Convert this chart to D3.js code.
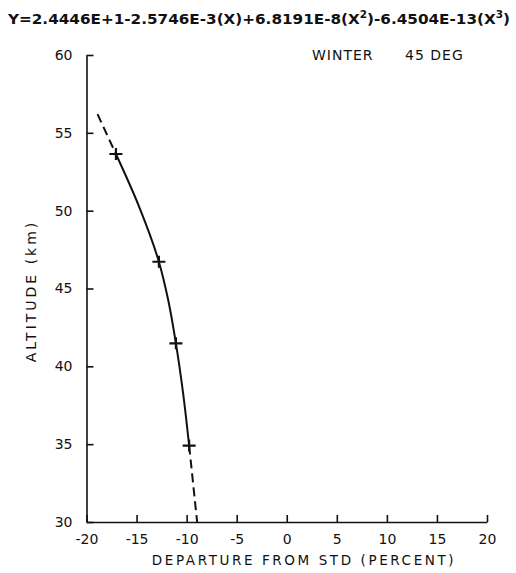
<!DOCTYPE html>
<html>
<head>
<meta charset="utf-8">
<script src="https://cdn.jsdelivr.net/npm/d3@7"></script>
<style>
  body { margin: 0; background: #fff; }
  svg text { font-family: "DejaVu Sans", sans-serif; fill: #111; }
</style>
</head>
<body>
<div id="chart"></div>
<script>
let width = 516, height = 573;

// markers (departure %, altitude km)
let markerX = [-17.06, -12.77, -11.07, -9.75];
let markerY = [53.64, 46.72, 41.48, 34.91];
// points along the solid fitted curve, read between the markers
let curveX = [-17.06, -14.75, -12.77, -11.84, -11.07, -10.35, -9.75];
let curveY = [53.64, 50.26, 46.72, 44.26, 41.48, 38.27, 34.91];
// dashed extrapolation ends
let topEnd = [-18.9, 56.2];
let bottomEnd = [-8.95, 30.0];

let xTicks = [-20, -15, -10, -5, 0, 5, 10, 15, 20];
let yTicks = [30, 35, 40, 45, 50, 55, 60];

let margin = {left: 86.5, right: 29, top: 55, bottom: 51};

let x = d3.scaleLinear().domain([-20, 20]).range([margin.left, width - margin.right]);
let y = d3.scaleLinear().domain([30, 60]).range([height - margin.bottom, margin.top]);

let svg = d3.select("#chart").append("svg")
    .attr("width", width)
    .attr("height", height);

// equation title
let title = svg.append("text")
    .attr("x", 8)
    .attr("y", 24)
    .attr("textLength", 502)
    .attr("lengthAdjust", "spacingAndGlyphs")
    .style("font-size", "14.5px")
    .style("font-weight", "bold");
title.append("tspan").text("Y=2.4446E+1-2.5746E-3(X)+6.8191E-8(X");
title.append("tspan").attr("dy", -6).style("font-size", "10px").text("2");
title.append("tspan").attr("dy", 6).text(")-6.4504E-13(X");
title.append("tspan").attr("dy", -6).style("font-size", "10px").text("3");
title.append("tspan").attr("dy", 6).text(")");

svg.append("text").attr("x", 312).attr("y", 60)
    .style("font-size", "14px").style("letter-spacing", "1px").text("WINTER");
svg.append("text").attr("x", 405).attr("y", 60)
    .style("font-size", "14px").style("letter-spacing", "1px").text("45 DEG");

// axes (ticks pointing inward)
let xAxis = d3.axisBottom(x).tickValues(xTicks).tickSizeInner(-7).tickSizeOuter(0).tickPadding(12)
    .tickFormat(d => d);
let yAxis = d3.axisLeft(y).tickValues(yTicks).tickSizeInner(-7).tickSizeOuter(0).tickPadding(14)
    .tickFormat(d => d);

let gx = svg.append("g").attr("transform", "translate(0," + y(30) + ")").call(xAxis);
let gy = svg.append("g").attr("transform", "translate(" + x(-20) + ",0)").call(yAxis);

[gx, gy].forEach(function(g) {
    g.select(".domain").attr("stroke", "#111").attr("stroke-width", 1.6);
    g.selectAll(".tick line").attr("stroke", "#111").attr("stroke-width", 1.6);
    g.selectAll(".tick text").style("font-size", "14px").attr("fill", "#111");
});

svg.append("text")
    .attr("x", 304)
    .attr("y", 565)
    .attr("text-anchor", "middle")
    .style("font-size", "13.5px")
    .style("letter-spacing", "2.6px")
    .text("DEPARTURE FROM STD (PERCENT)");

svg.append("text")
    .attr("transform", "translate(36,291) rotate(-90)")
    .attr("text-anchor", "middle")
    .style("font-size", "14px")
    .style("letter-spacing", "3px")
    .text("ALTITUDE (km)");

// curve
let markers = markerX.map((d, i) => [d, markerY[i]]);
let curvePts = curveX.map((d, i) => [d, curveY[i]]);

let line = d3.line()
    .x(d => x(d[0]))
    .y(d => y(d[1]))
    .curve(d3.curveMonotoneY);

svg.append("path")
    .datum(curvePts)
    .attr("d", line)
    .attr("fill", "none")
    .attr("stroke", "#111")
    .attr("stroke-width", 2);

let straight = d3.line().x(d => x(d[0])).y(d => y(d[1]));
[[topEnd, markers[0]], [markers[markers.length - 1], bottomEnd]].forEach(function(seg) {
    svg.append("path")
        .datum(seg)
        .attr("d", straight)
        .attr("fill", "none")
        .attr("stroke", "#111")
        .attr("stroke-width", 2)
        .attr("stroke-dasharray", "9,5");
});

// plus markers
svg.append("g").selectAll("path")
    .data(markers)
    .enter().append("path")
    .attr("d", function(d) {
        let cx = x(d[0]), cy = y(d[1]);
        return "M" + (cx - 6.5) + "," + cy + "H" + (cx + 6.5) + "M" + cx + "," + (cy - 6) + "V" + (cy + 6);
    })
    .attr("stroke", "#111")
    .attr("stroke-width", 2.2);
</script>
</body>
</html>
